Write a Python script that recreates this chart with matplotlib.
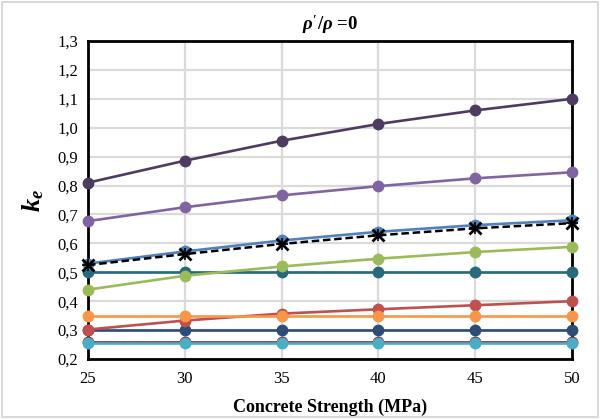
import matplotlib
matplotlib.use("Agg")
import matplotlib.pyplot as plt
from matplotlib.ticker import FuncFormatter

plt.rcParams['font.family'] = ['Liberation Serif', 'DejaVu Serif']
plt.rcParams['mathtext.fontset'] = 'custom'
plt.rcParams['mathtext.it'] = 'Liberation Serif:bold:italic'
plt.rcParams['mathtext.rm'] = 'Liberation Serif:bold'

# data
strength = [25, 30, 35, 40, 45, 50]
s_darkpurple = [0.81, 0.886, 0.955, 1.013, 1.060, 1.100]
s_purple = [0.677, 0.725, 0.766, 0.798, 0.825, 0.846]
s_blue = [0.530, 0.572, 0.610, 0.640, 0.663, 0.680]
s_green = [0.440, 0.488, 0.520, 0.547, 0.570, 0.588]
s_teal = [0.50, 0.50, 0.50, 0.50, 0.50, 0.50]
s_red = [0.302, 0.333, 0.357, 0.372, 0.386, 0.400]
s_orange = [0.35, 0.35, 0.35, 0.35, 0.35, 0.35]
s_navy = [0.30, 0.30, 0.30, 0.30, 0.30, 0.30]
s_darkred = [0.259, 0.259, 0.259, 0.259, 0.259, 0.259]
s_cyan = [0.255, 0.255, 0.255, 0.255, 0.255, 0.255]
s_mean = [0.525, 0.563, 0.598, 0.628, 0.652, 0.670]

fig = plt.figure(figsize=(6, 4.19), dpi=100)
fig.patches.append(plt.Rectangle((0.003, 0.004), 0.994, 0.992, transform=fig.transFigure,
                                 fill=False, edgecolor='#D9D9D9', linewidth=1.5))
ax = fig.add_axes([0.1467, 0.1432, 0.8066, 0.7589])

lw = 1.9
ms = 7.5
series = [
    (s_darkred, '#7B2C2A'),
    (s_cyan, '#4BACC6'),
    (s_navy, '#2C4D75'),
    (s_red, '#C0504D'),
    (s_orange, '#F79646'),
    (s_teal, '#276A7C'),
    (s_green, '#9BBB59'),
    (s_blue, '#4F81BD'),
    (s_purple, '#8064A2'),
    (s_darkpurple, '#4D3B62'),
]
for vals, col in series:
    ax.plot(strength, vals, '-o', color=col, lw=lw, ms=ms, mec=col, mfc=col, zorder=3, clip_on=False)

ax.plot(strength, s_mean, '--', color='black', lw=1.8, dashes=(3, 1.5), zorder=4, clip_on=False)
ax.plot(strength, s_mean, 'x', color='black', ms=8, mew=2, zorder=5, clip_on=False)
ax.plot(strength, s_mean, '+', color='black', ms=8, mew=1.2, zorder=5, clip_on=False)

ax.set_xlim(25, 50)
ax.set_ylim(0.2, 1.3)
ax.set_xticks(strength)
ax.set_yticks([0.2 + 0.1 * i for i in range(12)])
ax.yaxis.set_major_formatter(FuncFormatter(lambda v, p: ("%.1f" % v).replace('.', ',')))
ax.grid(True, color='#DADADA', lw=1.6, zorder=0)
ax.set_axisbelow(True)
ax.tick_params(length=0, labelsize=12, pad=9)
ax.tick_params(axis='y', pad=7)
for sp in ax.spines.values():
    sp.set_linewidth(2)
    sp.set_color('black')

ax.set_xlabel("Concrete Strength (MPa)", fontsize=13, fontweight='bold', labelpad=8)
ax.set_ylabel(r"$k_e$", fontsize=19, labelpad=8)
ax.set_title(r"$\rho'/\rho$ =0", fontsize=13.5, fontweight='bold', pad=8)

fig.savefig("out.png", dpi=100)
